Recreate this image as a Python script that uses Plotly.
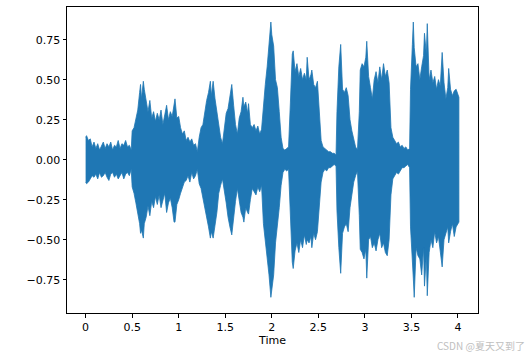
import plotly.graph_objects as go

# Envelope of the waveform (seconds, max amplitude, min amplitude)
time_s = [0.00, 0.01, 0.03, 0.05, 0.07, 0.09, 0.11, 0.13, 0.15, 0.17, 0.19, 0.21, 0.23, 0.25, 0.27, 0.29,
          0.31, 0.33, 0.35, 0.37, 0.39, 0.41, 0.43, 0.45, 0.47, 0.49, 0.50, 0.52, 0.54, 0.56, 0.58, 0.59,
          0.60, 0.62, 0.63, 0.65, 0.67, 0.69, 0.71, 0.73, 0.75, 0.77, 0.79, 0.81, 0.83, 0.85, 0.87, 0.89,
          0.91, 0.93, 0.95, 0.96, 0.98, 1.00, 1.02, 1.04, 1.06, 1.08, 1.10, 1.12, 1.14, 1.16, 1.18, 1.20,
          1.22, 1.24, 1.26, 1.28, 1.30, 1.32, 1.34, 1.35, 1.37, 1.39, 1.41, 1.43, 1.45, 1.47, 1.49, 1.51,
          1.53, 1.55, 1.57, 1.59, 1.61, 1.63, 1.65, 1.67, 1.69, 1.70, 1.72, 1.74, 1.75, 1.77, 1.79, 1.81,
          1.83, 1.85, 1.87, 1.89, 1.91, 1.93, 1.95, 1.97, 1.99, 2.00, 2.02, 2.04, 2.06, 2.08, 2.10, 2.12,
          2.14, 2.16, 2.18, 2.20, 2.22, 2.23, 2.25, 2.27, 2.29, 2.31, 2.33, 2.35, 2.37, 2.38, 2.40, 2.42,
          2.43, 2.45, 2.47, 2.49, 2.51, 2.53, 2.55, 2.57, 2.59, 2.61, 2.63, 2.65, 2.67, 2.69, 2.70, 2.72,
          2.74, 2.76, 2.78, 2.80, 2.82, 2.84, 2.86, 2.88, 2.90, 2.92, 2.94, 2.95, 2.97, 2.99, 3.01, 3.02,
          3.04, 3.06, 3.08, 3.10, 3.12, 3.14, 3.16, 3.18, 3.20, 3.22, 3.24, 3.26, 3.28, 3.30, 3.32, 3.34,
          3.36, 3.38, 3.40, 3.42, 3.44, 3.46, 3.48, 3.49, 3.51, 3.52, 3.53, 3.55, 3.57, 3.59, 3.61, 3.63,
          3.64, 3.66, 3.67, 3.69, 3.71, 3.73, 3.75, 3.77, 3.79, 3.81, 3.83, 3.85, 3.87, 3.89, 3.90, 3.92,
          3.94, 3.96, 3.98, 4.00, 4.01]

amp_max = [0.14, 0.15, 0.12, 0.13, 0.08, 0.11, 0.07, 0.10, 0.06, 0.09, 0.11, 0.07, 0.10, 0.08, 0.11, 0.06,
           0.09, 0.08, 0.12, 0.07, 0.10, 0.09, 0.12, 0.08, 0.09, 0.06, 0.18, 0.20, 0.26, 0.31, 0.42, 0.47,
           0.38, 0.49, 0.44, 0.36, 0.30, 0.37, 0.26, 0.30, 0.24, 0.29, 0.25, 0.31, 0.22, 0.28, 0.34, 0.25,
           0.30, 0.27, 0.36, 0.38, 0.26, 0.27, 0.20, 0.16, 0.18, 0.12, 0.14, 0.11, 0.13, 0.09, 0.10, 0.05,
           0.14, 0.20, 0.22, 0.30, 0.37, 0.42, 0.49, 0.40, 0.49, 0.38, 0.30, 0.20, 0.14, 0.10, 0.20, 0.29,
           0.32, 0.40, 0.47, 0.34, 0.22, 0.16, 0.26, 0.30, 0.39, 0.33, 0.36, 0.29, 0.35, 0.22, 0.20, 0.22,
           0.18, 0.21, 0.16, 0.19, 0.36, 0.47, 0.58, 0.70, 0.86, 0.78, 0.71, 0.50, 0.45, 0.30, 0.14, 0.07,
           0.06, 0.07, 0.08, 0.36, 0.66, 0.68, 0.55, 0.60, 0.52, 0.57, 0.50, 0.54, 0.50, 0.64, 0.50, 0.53,
           0.56, 0.47, 0.45, 0.49, 0.30, 0.12, 0.08, 0.07, 0.06, 0.05, 0.05, 0.04, 0.04, 0.03, 0.30, 0.58,
           0.72, 0.44, 0.42, 0.45, 0.40, 0.25, 0.18, 0.12, 0.08, 0.06, 0.30, 0.56, 0.60, 0.58, 0.64, 0.74,
           0.52, 0.45, 0.38, 0.50, 0.55, 0.48, 0.58, 0.50, 0.60, 0.52, 0.56, 0.48, 0.20, 0.14, 0.12, 0.10,
           0.11, 0.08, 0.09, 0.07, 0.08, 0.06, 0.07, 0.44, 0.72, 0.86, 0.70, 0.58, 0.60, 0.50, 0.58, 0.65,
           0.79, 0.66, 0.85, 0.50, 0.56, 0.48, 0.52, 0.44, 0.50, 0.46, 0.67, 0.48, 0.38, 0.45, 0.57, 0.44,
           0.40, 0.43, 0.44, 0.40, 0.39]

amp_min = [-0.14, -0.15, -0.14, -0.12, -0.10, -0.11, -0.09, -0.12, -0.08, -0.11, -0.10, -0.08, -0.11, -0.13, -0.09, -0.08,
           -0.11, -0.09, -0.12, -0.10, -0.08, -0.12, -0.09, -0.08, -0.10, -0.06, -0.17, -0.21, -0.27, -0.32, -0.40, -0.46,
           -0.44, -0.49, -0.40, -0.36, -0.29, -0.35, -0.26, -0.30, -0.23, -0.28, -0.22, -0.30, -0.26, -0.21, -0.33, -0.27,
           -0.24, -0.30, -0.39, -0.39, -0.28, -0.25, -0.21, -0.17, -0.14, -0.13, -0.10, -0.14, -0.08, -0.12, -0.10, -0.06,
           -0.15, -0.18, -0.24, -0.30, -0.36, -0.42, -0.49, -0.45, -0.49, -0.40, -0.33, -0.21, -0.16, -0.12, -0.18, -0.27,
           -0.36, -0.42, -0.47, -0.38, -0.26, -0.18, -0.25, -0.33, -0.36, -0.39, -0.30, -0.33, -0.34, -0.25, -0.18, -0.20,
           -0.22, -0.17, -0.20, -0.16, -0.40, -0.48, -0.60, -0.72, -0.86, -0.80, -0.72, -0.52, -0.40, -0.30, -0.16, -0.08,
           -0.06, -0.07, -0.06, -0.38, -0.64, -0.68, -0.57, -0.52, -0.58, -0.50, -0.55, -0.47, -0.53, -0.50, -0.52, -0.48,
           -0.55, -0.46, -0.50, -0.45, -0.32, -0.14, -0.08, -0.06, -0.07, -0.05, -0.05, -0.04, -0.03, -0.04, -0.32, -0.55,
           -0.71, -0.46, -0.42, -0.40, -0.45, -0.30, -0.22, -0.14, -0.10, -0.07, -0.35, -0.56, -0.58, -0.62, -0.56, -0.74,
           -0.50, -0.48, -0.55, -0.52, -0.57, -0.50, -0.46, -0.55, -0.52, -0.58, -0.60, -0.50, -0.22, -0.12, -0.10, -0.08,
           -0.09, -0.07, -0.05, -0.05, -0.04, -0.03, -0.05, -0.42, -0.64, -0.74, -0.86, -0.55, -0.60, -0.62, -0.72, -0.55,
           -0.79, -0.60, -0.85, -0.58, -0.50, -0.55, -0.45, -0.52, -0.48, -0.56, -0.67, -0.50, -0.46, -0.42, -0.52, -0.45,
           -0.40, -0.48, -0.42, -0.40, -0.39]

x_tick_vals = [0, 0.5, 1, 1.5, 2, 2.5, 3, 3.5, 4]
x_tick_text = ["0", "0.5", "1", "1.5", "2", "2.5", "3", "3.5", "4"]
y_tick_vals = [-0.75, -0.5, -0.25, 0.0, 0.25, 0.5, 0.75]
y_tick_text = ["\u22120.75", "\u22120.50", "\u22120.25", "0.00", "0.25", "0.50", "0.75"]

BLUE = "#1f77b4"
FONT = "DejaVu Sans"

fig = go.Figure()
fig.add_trace(go.Scatter(
    x=time_s + time_s[::-1],
    y=amp_max + amp_min[::-1],
    mode="lines",
    fill="toself",
    fillcolor=BLUE,
    line=dict(color=BLUE, width=0.8),
    hoverinfo="skip",
    showlegend=False,
))

axis_common = dict(
    showgrid=False, zeroline=False,
    showline=True, linecolor="black", linewidth=1, mirror=True,
    ticks="outside", ticklen=3.5, tickwidth=1, tickcolor="black",
    tickfont=dict(family=FONT, size=11, color="black"),
)

fig.update_layout(
    width=530, height=357,
    margin=dict(l=67, r=52, t=7, b=44),
    paper_bgcolor="white", plot_bgcolor="white",
    xaxis=dict(range=[-0.2, 4.215], tickmode="array", tickvals=x_tick_vals, ticktext=x_tick_text,
               title=dict(text="Time", font=dict(family=FONT, size=11, color="black"), standoff=2),
               **axis_common),
    yaxis=dict(range=[-0.958, 0.954], tickmode="array", tickvals=y_tick_vals, ticktext=y_tick_text,
               **axis_common),
    annotations=[dict(
        text="CSDN @夏天又到了", xref="paper", yref="paper",
        x=1.0, y=0, xanchor="right", yanchor="middle", yshift=-32, xshift=49,
        showarrow=False,
        font=dict(family="Noto Sans CJK SC, DejaVu Sans", size=10, color="#c0c0c0"),
    )],
)

fig.write_html("out.html", config={"displayModeBar": False, "staticPlot": True},
               post_script="document.body.style.margin='0';document.body.style.overflow='hidden';")
